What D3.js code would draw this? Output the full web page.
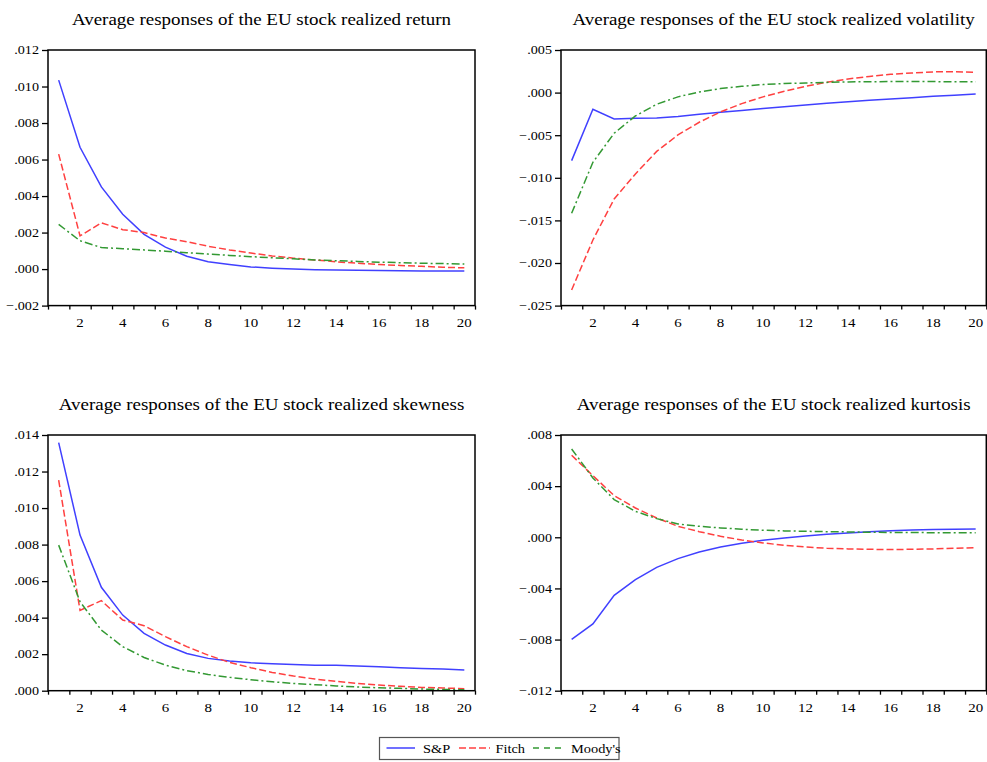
<!DOCTYPE html>
<html>
<head>
<meta charset="utf-8">
<script src="https://cdn.jsdelivr.net/npm/d3@7"></script>
<style>
  body { margin: 0; background: #fff; }
</style>
</head>
<body>
<svg id="chart" width="987" height="762"></svg>
<script>

// horizons 1..20
var horizons = d3.range(1, 21)

var series_names = ["S&P", "Fitch", "Moody's"]

// realized return
var ret_sp = [0.01035, 0.00667, 0.0045, 0.0030, 0.0019, 0.0012, 0.0007, 0.0004, 0.00025, 0.00012,
  0.00005, 0.0, -0.00003, -0.00005, -0.00007, -0.00008, -0.00009, -0.0001, -0.0001, -0.0001]
var ret_fitch = [0.0063, 0.00182, 0.00253, 0.00216, 0.0020, 0.0017, 0.0015, 0.00125, 0.00105, 0.00088,
  0.00072, 0.0006, 0.0005, 0.0004, 0.00032, 0.00025, 0.0002, 0.00015, 0.0001, 0.00007]
var ret_moodys = [0.00245, 0.00155, 0.00118, 0.00112, 0.00105, 0.00098, 0.0009, 0.00082, 0.00075, 0.00068,
  0.00062, 0.00056, 0.0005, 0.00046, 0.00042, 0.00038, 0.00035, 0.00032, 0.0003, 0.00028]

// realized volatility
var vol_sp = [-0.00798, -0.00196, -0.0031, -0.0030, -0.00297, -0.0028, -0.00255, -0.0023, -0.0021, -0.00188,
  -0.00165, -0.00145, -0.00125, -0.00106, -0.0009, -0.00074, -0.0006, -0.00043, -0.0003, -0.00016]
var vol_fitch = [-0.02316, -0.0173, -0.01248, -0.00955, -0.0069, -0.00497, -0.00348, -0.00227, -0.00129, -0.0005,
  0.00016, 0.00074, 0.00121, 0.0016, 0.0019, 0.00215, 0.0023, 0.00243, 0.00246, 0.00239]
var vol_moodys = [-0.01416, -0.00818, -0.00477, -0.00274, -0.00137, -0.0005, 0.00008, 0.00047, 0.00074, 0.00094,
  0.00106, 0.00113, 0.0012, 0.00125, 0.00128, 0.00129, 0.00129, 0.00129, 0.00128, 0.00128]

// realized skewness
var skew_sp = [0.01358, 0.00852, 0.00566, 0.00414, 0.00314, 0.0025, 0.00204, 0.00177, 0.00162, 0.00153,
  0.00148, 0.00144, 0.0014, 0.00139, 0.00135, 0.00131, 0.00126, 0.00122, 0.00119, 0.00113]
var skew_fitch = [0.01153, 0.0044, 0.00493, 0.00387, 0.00356, 0.00296, 0.00241, 0.00195, 0.00155, 0.00126,
  0.001, 0.0008, 0.00064, 0.00051, 0.0004, 0.00031, 0.00024, 0.00018, 0.00015, 0.00011]
var skew_moodys = [0.00797, 0.00487, 0.00332, 0.00241, 0.00182, 0.0014, 0.0011, 0.00089, 0.00073, 0.0006,
  0.00049, 0.0004, 0.00033, 0.00026, 0.0002, 0.00016, 0.00013, 0.00009, 0.00007, 0.00005]

// realized kurtosis
var kurt_sp = [-0.00798, -0.00678, -0.00454, -0.00331, -0.00235, -0.00167, -0.00115, -0.00076, -0.00047, -0.00023,
  -0.00005, 0.0001, 0.00023, 0.00034, 0.00044, 0.00052, 0.00057, 0.0006, 0.00063, 0.00065]
var kurt_fitch = [0.00641, 0.00482, 0.00326, 0.00229, 0.00151, 0.00086, 0.00044, 0.00008, -0.00021, -0.00044,
  -0.00063, -0.00076, -0.00086, -0.00091, -0.00094, -0.00096, -0.00094, -0.00091, -0.00086, -0.00081]
var kurt_moodys = [0.00691, 0.00464, 0.00295, 0.00203, 0.00146, 0.00104, 0.00086, 0.00073, 0.00063, 0.00055,
  0.0005, 0.00047, 0.00044, 0.00042, 0.00039, 0.00038, 0.00037, 0.00036, 0.00036, 0.00036]

// panel titles and y axis ranges (min, max, step)
var titles = ["Average responses of the EU stock realized return",
  "Average responses of the EU stock realized volatility",
  "Average responses of the EU stock realized skewness",
  "Average responses of the EU stock realized kurtosis"]
var y_ranges = [[-0.002, 0.012, 0.002], [-0.025, 0.005, 0.005], [0.000, 0.014, 0.002], [-0.012, 0.008, 0.004]]

var colors = ["#4040ff", "#ff4040", "#339933"]
var dashes = [null, "7,3", "8,3,2,3"]

var FONT = "'Liberation Serif', 'Times New Roman', Times, 'DejaVu Serif', serif"
var STRETCH = 1.15

var svg = d3.select("#chart")

// plot boxes
var boxes = [
  {left: 48, top: 50, right: 475, bottom: 305.6},
  {left: 561, top: 50, right: 986.3, bottom: 305.6},
  {left: 48, top: 435, right: 475, bottom: 690.7},
  {left: 561, top: 435, right: 986.3, bottom: 690.7}
]

var panel_data = [
  [ret_sp, ret_fitch, ret_moodys],
  [vol_sp, vol_fitch, vol_moodys],
  [skew_sp, skew_fitch, skew_moodys],
  [kurt_sp, kurt_fitch, kurt_moodys]
]

// strip the leading zero like ".012" / "-.002"
function fmt(v){
  return d3.format(".3f")(Math.abs(v) < 1e-9 ? 0 : v).replace("0.", ".")
}

// text that is a bit wider than plain Times, like the original export
function put_text(parent, x, y, str, size, anchor){
  return parent.append("text")
    .attr("transform", "translate(" + x + "," + y + ") scale(" + STRETCH + ",1)")
    .attr("text-anchor", anchor || "start")
    .style("font-family", FONT)
    .style("font-size", size + "px")
    .style("fill", "#000")
    .text(str)
}

function draw_panel(i){
  var b = boxes[i]
  var g = svg.append("g")

  var x = d3.scaleLinear().domain([0.5, 20.5]).range([b.left, b.right])
  var yr = y_ranges[i]
  var y = d3.scaleLinear().domain([yr[0], yr[1]]).range([b.bottom, b.top])

  // title
  put_text(g, (b.left + b.right) / 2, b.top - 25, titles[i], 16.5, "middle")

  // y axis
  var yticks = d3.range(yr[0], yr[1] + yr[2] / 2, yr[2])
  var yaxis = g.append("g")
    .attr("transform", "translate(" + b.left + ",0)")
    .call(d3.axisLeft(y).tickValues(yticks).tickFormat("").tickSize(6))
  yaxis.select(".domain").remove()
  yaxis.selectAll("line").attr("stroke", "#000").attr("stroke-width", 1.3)

  yticks.forEach(function(v){
    put_text(g, b.left - 9, y(v) + 4.3, fmt(v), 12.3, "end")
  })

  // x axis: ticks between observations, labels on even horizons
  var xaxis = g.append("g")
    .attr("transform", "translate(0," + b.bottom + ")")
    .call(d3.axisBottom(x).tickValues(d3.range(0.5, 21, 1)).tickFormat("").tickSize(4))
  xaxis.select(".domain").remove()
  xaxis.selectAll("line").attr("stroke", "#000").attr("stroke-width", 1.3)

  horizons.filter(function(d){ return d % 2 == 0 }).forEach(function(d){
    put_text(g, x(d), b.bottom + 21, d, 13, "middle")
  })

  // lines
  var line = d3.line()
    .x(function(d, j){ return x(horizons[j]) })
    .y(function(d){ return y(d) })

  panel_data[i].forEach(function(s, k){
    g.append("path")
      .datum(s)
      .attr("fill", "none")
      .attr("stroke", colors[k])
      .attr("stroke-width", 1.5)
      .attr("stroke-dasharray", dashes[k])
      .attr("d", line)
  })

  // frame
  g.append("rect")
    .attr("x", b.left)
    .attr("y", b.top)
    .attr("width", b.right - b.left)
    .attr("height", b.bottom - b.top)
    .attr("fill", "none")
    .attr("stroke", "#000")
    .attr("stroke-width", 1.5)
}

d3.range(4).forEach(draw_panel)

// legend
var legend = svg.append("g")
legend.append("rect")
  .attr("x", 379.5)
  .attr("y", 737.5)
  .attr("width", 239.5)
  .attr("height", 22)
  .attr("fill", "none")
  .attr("stroke", "#555")
  .attr("stroke-width", 1.2)

var legend_items = [
  {x1: 386.5, x2: 415, tx: 423, dash: null},
  {x1: 459, x2: 490, tx: 495.5, dash: "7,3"},
  {x1: 533, x2: 565, tx: 571, dash: "6,5"}
]

legend_items.forEach(function(it, k){
  legend.append("line")
    .attr("x1", it.x1).attr("x2", it.x2)
    .attr("y1", 748).attr("y2", 748)
    .attr("stroke", colors[k])
    .attr("stroke-width", 1.5)
    .attr("stroke-dasharray", it.dash)
  put_text(legend, it.tx, 753, series_names[k], 12.5)
})

</script>
</body>
</html>
